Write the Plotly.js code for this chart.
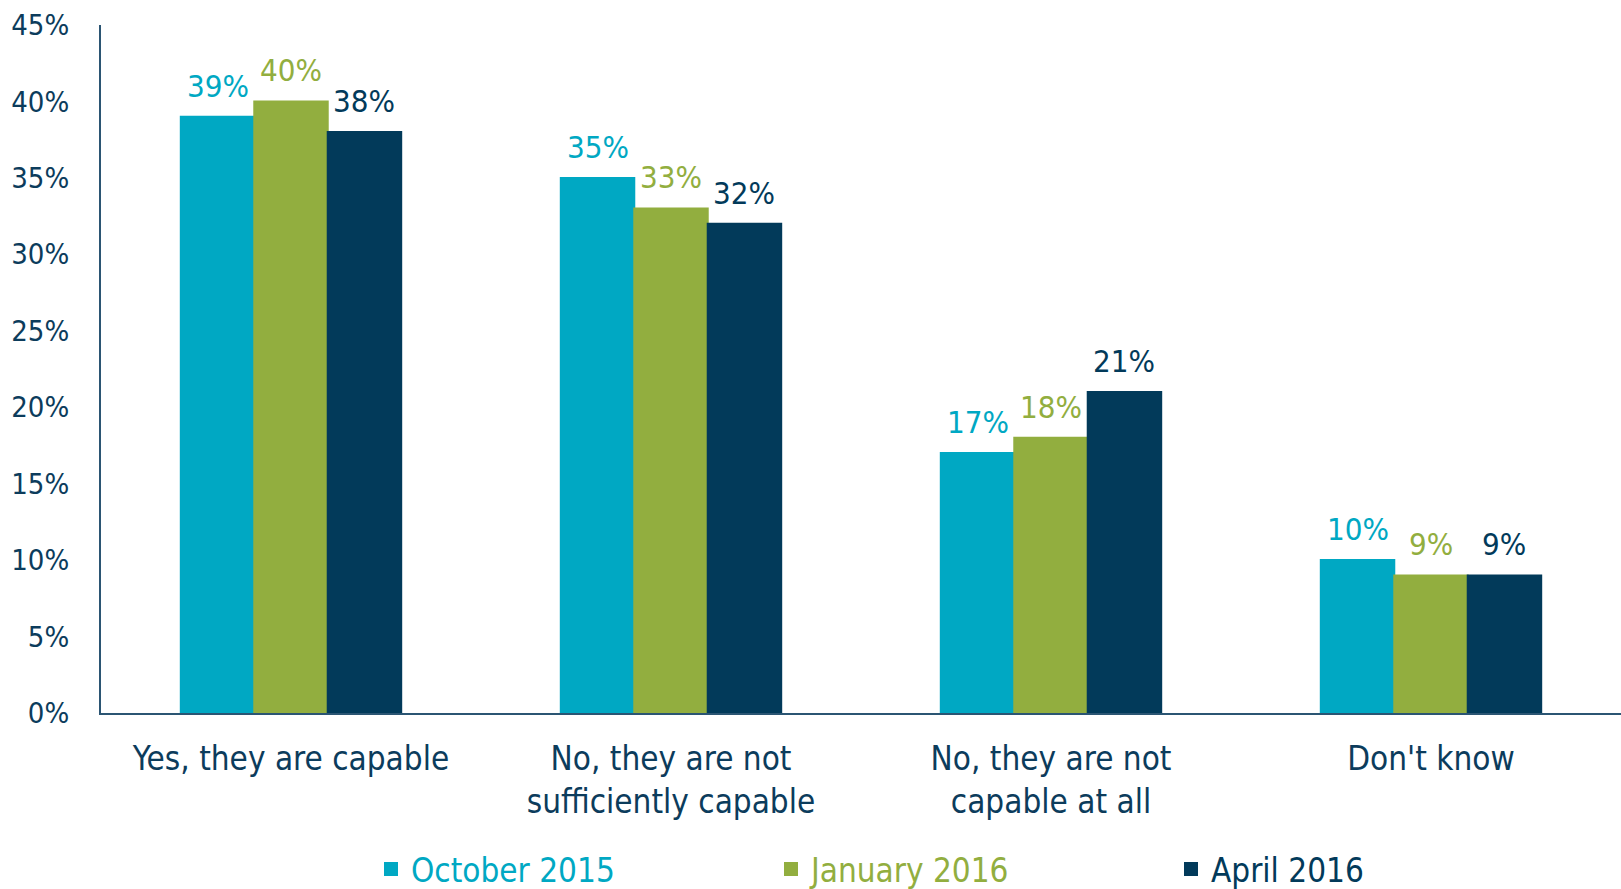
<!DOCTYPE html>
<html>
<head>
<meta charset="utf-8">
<script src="https://cdn.plot.ly/plotly-3.0.1.min.js"></script>
<style>html,body{margin:0;padding:0;background:#fff;}#chart{width:1621px;height:889px;}</style>
</head>
<body>
<div id="chart"></div>
<script>
const categories = ["Yes, they are capable", "No, they are not<br>sufficiently capable", "No, they are not<br>capable at all", "Don't know"];
const seriesNames = ["October 2015", "January 2016", "April 2016"];
const oct2015 = [39, 35, 17, 10];
const jan2016 = [40, 33, 18, 9];
const apr2016 = [38, 32, 21, 9];
const yTickVals = [0, 5, 10, 15, 20, 25, 30, 35, 40, 45];
const yTickText = ["0%", "5%", "10%", "15%", "20%", "25%", "30%", "35%", "40%", "45%"];

const colors = ["#00A8C3", "#92AE3F", "#023A5A"];
const seriesValues = [oct2015, jan2016, apr2016];
const FONT = "DejaVu Sans Condensed, DejaVu Sans, sans-serif";
const textNavy = "#0C3C5C";

const traces = seriesValues.map((vals, i) => ({
  type: "bar",
  x: categories,
  y: vals,
  name: '<span style="color:' + colors[i] + '">' + seriesNames[i] + '</span>',
  marker: {color: colors[i], line: {width: 2, color: colors[i]}},
  hoverinfo: "skip"
}));

// data labels positioned via data coordinates
const barOffsets = [-73.3, 0, 73.3];
const annotations = [];
seriesValues.forEach((vals, i) => {
  vals.forEach((v, j) => {
    annotations.push({
      x: categories[j], y: v, xref: "x", yref: "y",
      text: v + "%", showarrow: false,
      xshift: barOffsets[i], yanchor: "bottom", yshift: 11,
      font: {family: FONT, size: 31, color: colors[i]}
    });
  });
});

const layout = {
  width: 1621, height: 889,
  paper_bgcolor: "#ffffff", plot_bgcolor: "#ffffff",
  margin: {l: 101, r: 0, t: 25, b: 176},
  barmode: "group",
  bargap: 0.42,
  bargroupgap: 0,
  showlegend: true,
  font: {family: FONT, color: textNavy},
  xaxis: {
    type: "category",
    showline: true, linecolor: "#2B5573", linewidth: 2,
    ticks: "", showgrid: false, zeroline: false,
    tickfont: {family: FONT, size: 33, color: textNavy},
    ticklabelstandoff: 15
  },
  yaxis: {
    range: [0, 45],
    tickvals: yTickVals, ticktext: yTickText,
    showline: true, linecolor: "#2B5573", linewidth: 2,
    ticks: "", showgrid: false, zeroline: false,
    tickfont: {family: FONT, size: 29, color: textNavy},
    ticklabelstandoff: 24
  },
  legend: {
    orientation: "h",
    xref: "container", yref: "container",
    x: 371 / 1621, xanchor: "left",
    y: 20 / 889, yanchor: "middle",
    entrywidth: 355, entrywidthmode: "pixels",
    itemwidth: 30,
    font: {family: FONT, size: 33},
    bgcolor: "rgba(0,0,0,0)"
  },
  annotations: annotations
};

Plotly.newPlot("chart", traces, layout, {displayModeBar: false, staticPlot: true});
</script>
</body>
</html>
